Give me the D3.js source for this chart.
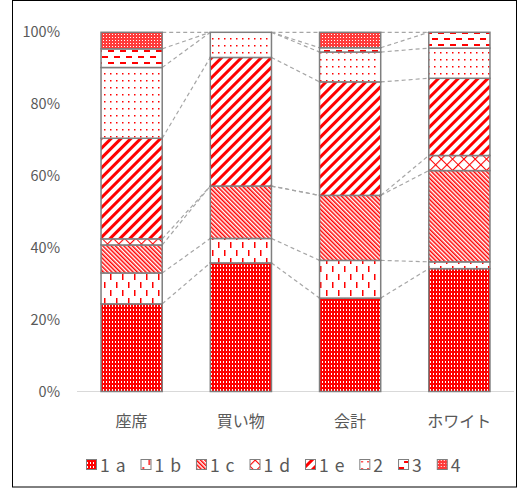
<!DOCTYPE html>
<html>
<head>
<meta charset="utf-8">
<script src="https://cdn.jsdelivr.net/npm/d3@7"></script>
<style>
  html, body { margin: 0; padding: 0; background: #fff; }
  svg { display: block; }
  text { font-family: "Noto Sans CJK JP", "Noto Sans", sans-serif; fill: #595959; }
</style>
</head>
<body>
<svg id="chart" width="520" height="488"></svg>
<script>
// Categories along the x axis
const categories = ["座席", "買い物", "会計", "ホワイト"];

// Series keys and legend labels (stack order, bottom to top)
const seriesKeys = ["s1a", "s1b", "s1c", "s1d", "s1e", "s2", "s3", "s4"];
const seriesLabels = ["1 a", "1 b", "1 c", "1 d", "1 e", "2", "3", "4"];

// Share of each series per category (%)
const s1a = [24.4, 35.8, 26.0, 34.2];
const s1b = [8.6, 6.8, 10.5, 1.9];
const s1c = [7.8, 14.6, 18.1, 25.4];
const s1d = [1.7, 0, 0, 4.2];
const s1e = [28.0, 35.8, 31.6, 21.5];
const s2  = [19.7, 7.0, 8.3, 8.4];
const s3  = [5.2, 0, 1.2, 4.4];
const s4  = [4.6, 0, 4.3, 0];

// Y axis ticks
const yTicks = [0, 20, 40, 60, 80, 100];

const seriesValues = { s1a, s1b, s1c, s1d, s1e, s2, s3, s4 };
const rows = categories.map((c, i) => {
  const r = { category: c };
  seriesKeys.forEach(k => { r[k] = seriesValues[k][i]; });
  return r;
});

const svg = d3.select("#chart");
const RED = "#ff0000";

// ---- fill patterns ----
const defs = svg.append("defs");
function pat(id, w, h, transform) {
  const p = defs.append("pattern").attr("id", id)
    .attr("patternUnits", "userSpaceOnUse").attr("width", w).attr("height", h);
  if (transform) p.attr("patternTransform", transform);
  p.append("rect").attr("width", w).attr("height", h).attr("fill", "#fff");
  return p;
}
// 1a: dense red with small white holes
{
  const p = pat("p1a", 3, 4);
  p.select("rect").attr("fill", RED);
  p.append("rect").attr("x", 1).attr("y", 1).attr("width", 1).attr("height", 2).attr("fill", "#fff");
}
// 1b: staggered vertical dashes
{
  const p = pat("p1b", 12, 16);
  p.append("rect").attr("x", 2).attr("y", 2).attr("width", 1.5).attr("height", 6).attr("fill", RED);
  p.append("rect").attr("x", 8).attr("y", 10).attr("width", 1.5).attr("height", 6).attr("fill", RED);
}
// 1c: narrow downward diagonals
{
  const p = pat("p1c", 3, 3, "rotate(-45)");
  p.append("rect").attr("x", 0).attr("y", 0).attr("width", 1.5).attr("height", 3).attr("fill", RED);
}
// 1d: outlined diamonds
{
  const p = pat("p1d", 8, 8, "rotate(45)");
  p.append("path").attr("d", "M0,0.5H8M0.5,0V8").attr("stroke", RED).attr("stroke-width", 1.2).attr("fill", "none");
}
// 1e: wide upward diagonals
{
  const p = pat("p1e", 7, 7, "rotate(45)");
  p.append("rect").attr("x", 0).attr("y", 0).attr("width", 3).attr("height", 7).attr("fill", RED);
}
// 2: sparse dots
{
  const p = pat("p2", 6, 7);
  p.append("rect").attr("x", 2).attr("y", 3).attr("width", 1.5).attr("height", 1.5).attr("fill", RED);
}
// 3: horizontal dashes
{
  const p = pat("p3", 12, 12);
  p.append("rect").attr("x", 0).attr("y", 2).attr("width", 6).attr("height", 2).attr("fill", RED);
  p.append("rect").attr("x", 6).attr("y", 8).attr("width", 6).attr("height", 2).attr("fill", RED);
}
// 4: red field with a regular grid of light specks
{
  const p = pat("p4", 3, 3);
  p.select("rect").attr("fill", "#ff3b3b");
  p.append("rect").attr("x", 1).attr("y", 1).attr("width", 1).attr("height", 1).attr("fill", "#fff");
}
const fillFor = k => "url(#p" + k.slice(1) + ")";

// ---- chart frame ----
svg.append("rect").attr("x", 12.5).attr("y", 0.5).attr("width", 504).attr("height", 486.5)
  .attr("fill", "none").attr("stroke", "#000").attr("stroke-width", 1);

// ---- scales ----
const x = d3.scaleBand().domain(categories).range([77, 514])
  .paddingInner(0.44).paddingOuter(0.22);
const y = d3.scaleLinear().domain([0, 100]).range([391.5, 32.3]);

// ---- y axis ----
const yAxis = svg.append("g").attr("transform", "translate(77,0)")
  .call(d3.axisLeft(y).tickValues(yTicks).tickSize(0).tickPadding(17).tickFormat(d => d + "%"));
yAxis.select(".domain").remove();
yAxis.selectAll("text").style("font-size", "14.5px").attr("fill", "#595959")
  .style("font-family", "'Noto Sans CJK JP', sans-serif");

// baseline
svg.append("line").attr("x1", 77).attr("x2", 514).attr("y1", y(0)).attr("y2", y(0))
  .attr("stroke", "#d9d9d9").attr("stroke-width", 1);

// ---- stacked data ----
const stacked = d3.stack().keys(seriesKeys)(rows);

// series connector lines between adjacent bars
const cons = svg.append("g").attr("fill", "none").attr("stroke", "#a6a6a6")
  .attr("stroke-width", 1.2).attr("stroke-dasharray", "4,3");
stacked.forEach(layer => {
  for (let i = 0; i < categories.length - 1; i++) {
    const a = layer[i], b = layer[i + 1];
    cons.append("line")
      .attr("x1", x(categories[i]) + x.bandwidth())
      .attr("y1", y(a[1]))
      .attr("x2", x(categories[i + 1]))
      .attr("y2", y(b[1]));
  }
});

// bars
const bars = svg.append("g");
stacked.forEach(layer => {
  bars.selectAll(null)
    .data(layer.filter(d => d[1] - d[0] > 0))
    .join("rect")
    .attr("x", d => x(d.data.category))
    .attr("width", x.bandwidth())
    .attr("y", d => y(d[1]))
    .attr("height", d => y(d[0]) - y(d[1]))
    .attr("fill", fillFor(layer.key))
    .attr("stroke", "#7f7f7f")
    .attr("stroke-width", 1.5);
});

// ---- x axis labels ----
svg.append("g").selectAll("text").data(categories).join("text")
  .attr("x", d => x(d) + x.bandwidth() / 2)
  .attr("y", 427)
  .attr("text-anchor", "middle")
  .style("font-size", "16px")
  .text(d => d);

// ---- legend ----
const legend = svg.append("g").attr("transform", "translate(0,465)");
let lx = 86;
seriesKeys.forEach((k, i) => {
  const g = legend.append("g").attr("transform", `translate(${lx},0)`);
  g.append("rect").attr("x", 0.5).attr("y", -5.5).attr("width", 10).attr("height", 10)
    .attr("fill", fillFor(k)).attr("stroke", "#7f7f7f").attr("stroke-width", 1);
  const t = g.append("text").attr("x", 14).attr("y", 6.5)
    .style("font-size", "17.5px").style("letter-spacing", "1px").text(seriesLabels[i]);
  lx += 14 + t.node().getComputedTextLength() + 14;
});
</script>
</body>
</html>
